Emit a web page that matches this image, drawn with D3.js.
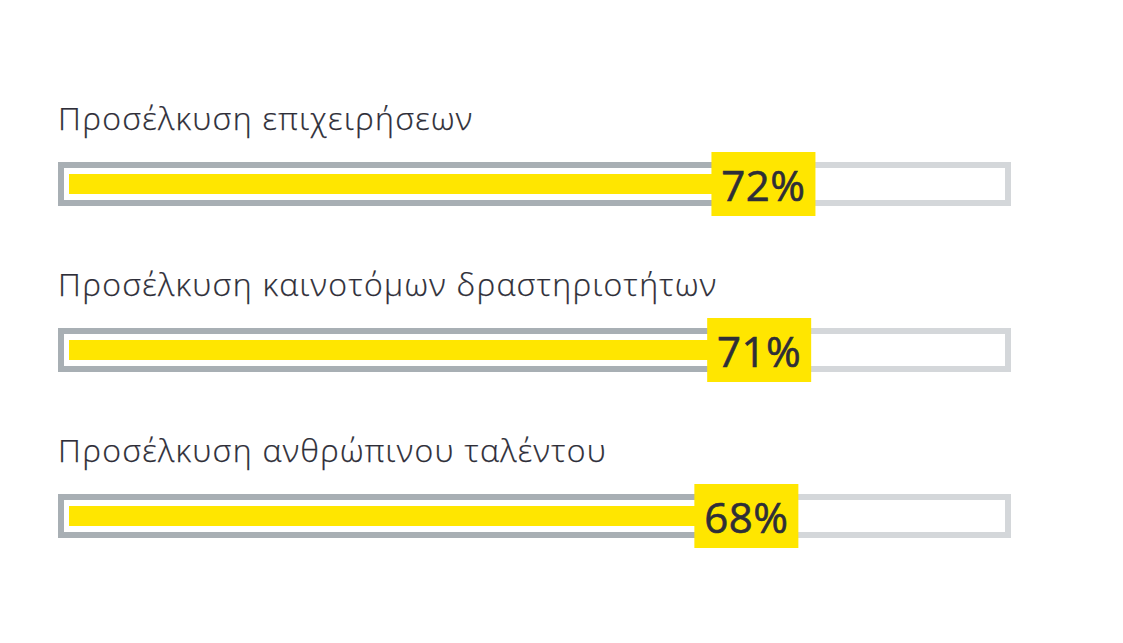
<!DOCTYPE html>
<html>
<head>
<meta charset="utf-8">
<script src="https://cdn.jsdelivr.net/npm/d3@7"></script>
<style>
  html, body { margin: 0; padding: 0; background: #ffffff; }
  svg { display: block; }
</style>
</head>
<body>
<svg id="chart" width="1123" height="643"></svg>
<script>
// ---- data ----
const categories = [
  "Προσέλκυση επιχειρήσεων",
  "Προσέλκυση καινοτόμων δραστηριοτήτων",
  "Προσέλκυση ανθρώπινου ταλέντου"
];
const values = [72, 71, 68];
const valueLabels = ["72%", "71%", "68%"];

// ---- styles ----
const YELLOW = "#ffe600";
const DARK_FRAME = "#a8afb4";
const LIGHT_FRAME = "#d4d7da";
const TEXT = "#2e2e38";
const VALUE_TEXT = "#2e2e38";

const svg = d3.select("#chart");

const frameLeft = 58, frameRight = 1011, frameH = 44, frameStroke = 6;
const barLeft = 69, barH = 20;
const boxW = 104, boxH = 64;

const y = d3.scalePoint().domain(categories).range([184, 516]);
// position of the value box centre along the track
const x = d3.scaleLinear().domain([0, 100]).range([456, 883]);

const rows = categories.map((c, i) => ({ cat: c, value: values[i], label: valueLabels[i] }));

const g = svg.selectAll("g.row").data(rows).join("g").attr("class", "row")
  .attr("transform", d => `translate(0,${y(d.cat)})`);

// category label
g.append("text")
  .attr("x", frameLeft)
  .attr("y", -54)
  .attr("font-family", "'Open Sans', 'Noto Sans', sans-serif")
  .attr("font-weight", 300)
  .attr("font-size", 32)
  .attr("letter-spacing", 1.3)
  .attr("fill", TEXT)
  .attr("stroke", TEXT)
  .attr("stroke-width", 0.25)
  .text(d => d.cat);

// light full frame
const inset = frameStroke / 2;
g.append("rect")
  .attr("x", frameLeft + inset)
  .attr("y", -frameH / 2 + inset)
  .attr("width", frameRight - frameLeft - frameStroke)
  .attr("height", frameH - frameStroke)
  .attr("fill", "#ffffff")
  .attr("stroke", LIGHT_FRAME)
  .attr("stroke-width", frameStroke);

// dark frame part up to value
g.append("path")
  .attr("fill", "none")
  .attr("stroke", DARK_FRAME)
  .attr("stroke-width", frameStroke)
  .attr("d", d => {
    const xe = x(d.value);
    const t = -frameH / 2 + inset, b = frameH / 2 - inset, l = frameLeft + inset;
    return `M${xe},${t}H${l}V${b}H${xe}`;
  });

// yellow bar
g.append("rect")
  .attr("x", barLeft)
  .attr("y", -barH / 2)
  .attr("width", d => x(d.value) - barLeft)
  .attr("height", barH)
  .attr("fill", YELLOW);

// value box
g.append("rect")
  .attr("x", d => x(d.value) - boxW / 2)
  .attr("y", -boxH / 2)
  .attr("width", boxW)
  .attr("height", boxH)
  .attr("fill", YELLOW);

g.append("text")
  .attr("x", d => x(d.value))
  .attr("y", 17)
  .attr("text-anchor", "middle")
  .attr("font-family", "'Open Sans', 'Noto Sans', sans-serif")
  .attr("font-weight", 400)
  .attr("font-size", 42)
  .attr("letter-spacing", 0.5)
  .attr("fill", VALUE_TEXT)
  .attr("stroke", VALUE_TEXT)
  .attr("stroke-width", 0.6)
  .text(d => d.label);
</script>
</body>
</html>
